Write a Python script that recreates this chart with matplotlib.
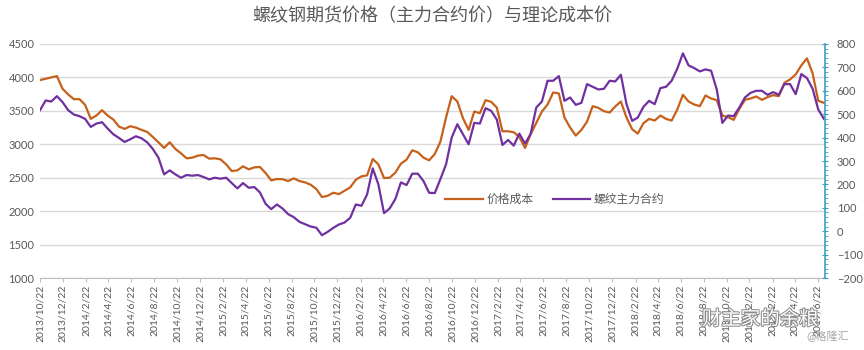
import numpy as np
import pandas as pd
import matplotlib
matplotlib.use("Agg")
import matplotlib.pyplot as plt
import matplotlib.patheffects as pe
from matplotlib.ticker import MultipleLocator

plt.rcParams['font.family'] = ['Lato', 'Noto Sans CJK SC', 'DejaVu Sans']

# half-month sampling of the two series
dates = pd.date_range("2013-10-22", periods=140, freq="15D")

cost = [3960, 3980, 4000, 4020, 3830, 3745, 3675, 3675, 3590, 3380,
        3430, 3510, 3430, 3370, 3265, 3230, 3270, 3250, 3215, 3185,
        3110, 3030, 2945, 3030, 2930, 2865, 2790, 2800, 2830, 2840,
        2785, 2790, 2775, 2700, 2600, 2610, 2670, 2625, 2655, 2660,
        2570, 2460, 2480, 2478, 2450, 2490, 2450, 2430, 2395, 2330,
        2210, 2230, 2275, 2255, 2305, 2355, 2470, 2520, 2535, 2780,
        2700, 2495, 2500, 2575, 2710, 2770, 2910, 2880, 2800, 2760,
        2855, 3040, 3400, 3720, 3640, 3390, 3215, 3490, 3465, 3660,
        3635, 3550, 3195, 3195, 3180, 3110, 2945, 3150, 3320, 3490,
        3595, 3775, 3760, 3400, 3250, 3130, 3215, 3340, 3570, 3545,
        3495, 3475, 3565, 3640, 3400, 3225, 3160, 3315, 3380, 3355,
        3430, 3380, 3355, 3520, 3740, 3640, 3595, 3570, 3730, 3685,
        3660, 3430, 3405, 3365, 3530, 3665, 3685, 3715, 3665, 3705,
        3735, 3720, 3920, 3970, 4045, 4180, 4285, 4060, 3650, 3620]

rebar = [3510, 3655, 3640, 3720, 3630, 3510, 3445, 3420, 3380, 3260,
         3310, 3330, 3235, 3150, 3095, 3035, 3075, 3120, 3090, 3030,
         2930, 2800, 2550, 2610, 2550, 2500, 2540, 2530, 2540, 2510,
         2475, 2500, 2485, 2500, 2420, 2340, 2420, 2350, 2360, 2280,
         2110, 2030, 2100, 2040, 1955, 1910, 1840, 1805, 1770, 1752,
         1640, 1690, 1750, 1800, 1830, 1900, 2100, 2080, 2250, 2640,
         2400, 1970, 2040, 2180, 2430, 2390, 2560, 2560, 2450, 2275,
         2270, 2480, 2700, 3100, 3300, 3150, 3000, 3320, 3310, 3540,
         3500, 3370, 2990, 3065, 2980, 3160, 3010, 3155, 3550, 3640,
         3950, 3950, 4020, 3650, 3700, 3590, 3620, 3900, 3860, 3820,
         3830, 3950, 3940, 4040, 3600, 3350, 3400, 3560, 3650, 3600,
         3840, 3860, 3950, 4130, 4360, 4180, 4140, 4090, 4120, 4100,
         3820, 3320, 3430, 3420, 3550, 3700, 3770, 3800, 3800, 3740,
         3780, 3740, 3900, 3900, 3750, 4050, 3990, 3830, 3520, 3380]

# tick every two months on the 22nd, 2013/10/22 .. 2019/6/22
tick_dates = pd.date_range("2013-10-01", "2019-06-01", freq="2MS") + pd.Timedelta(days=21)

title = "螺纹钢期货价格（主力合约价）与理论成本价"
orange = "#c5611b"
purple = "#7030a0"
gray = "#595959"
teal = "#3c9fc4"

fig = plt.figure(figsize=(8.64, 3.5), dpi=100)
ax = fig.add_axes([0.0463, 0.2057, 0.9086, 0.6686])

ax.plot(dates, cost, color=orange, lw=1.6, label="价格成本")
ax.plot(dates, rebar, color=purple, lw=1.6, label="螺纹主力合约")

ax.set_xlim(pd.Timestamp("2013-10-22"), pd.Timestamp("2019-07-11"))
ax.set_ylim(1000, 4500)
ax.set_yticks(range(1000, 4501, 500))
ax.grid(axis='y', color="#d9d9d9", lw=1)
ax.set_axisbelow(True)

ax.set_xticks(tick_dates)
ax.set_xticklabels([f"{d.year}/{d.month}/{d.day}" for d in tick_dates],
                   rotation=90, fontsize=7.5, color=gray)
ax.tick_params(axis='x', length=3, color="#bfbfbf", pad=2)
ax.tick_params(axis='y', length=0, labelsize=8, labelcolor=gray, pad=4)
for s in ['top', 'left', 'right']:
    ax.spines[s].set_visible(False)
ax.spines['bottom'].set_color("#bfbfbf")

ax2 = ax.twinx()
ax2.set_ylim(-200, 800)
ax2.yaxis.set_major_locator(MultipleLocator(100))
ax2.yaxis.set_minor_locator(MultipleLocator(20))
ax2.tick_params(axis='y', which='major', direction='inout', length=5,
                color=teal, labelsize=8, labelcolor=gray, pad=6)
ax2.tick_params(axis='y', which='minor', direction='out', length=2.5, color=teal)
for s in ['top', 'left', 'bottom']:
    ax2.spines[s].set_visible(False)
ax2.spines['right'].set_color(teal)
ax2.spines['right'].set_linewidth(1.2)

ax.legend(loc='center', bbox_to_anchor=(0.656, 0.335), ncol=2, frameon=False,
          fontsize=8.5, labelcolor=gray, handlelength=3.2, columnspacing=1.6,
          handletextpad=0.3)

fig.text(0.5, 0.955, title, ha='center', va='center', fontsize=13, color=gray)

# watermarks
fig.text(0.88, 0.09, "财主家的余粮", ha='center', va='center', fontsize=14,
         color="white", path_effects=[pe.withStroke(linewidth=1.5, foreground="#8c8c8c")])
fig.text(0.958, 0.038, "@格隆汇", ha='center', va='center', fontsize=8, color="#a6a6a6")

fig.savefig("out.png", dpi=100)
